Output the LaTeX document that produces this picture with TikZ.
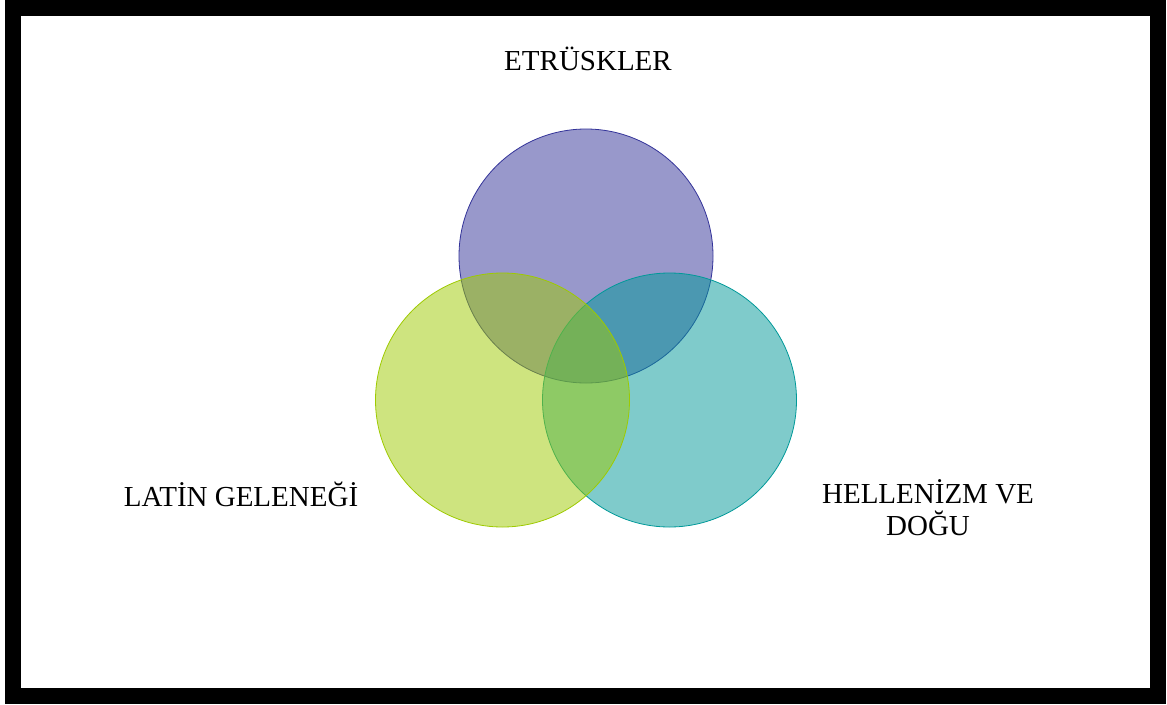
\documentclass[tikz,border=0pt]{standalone}
\usepackage{fontspec}
\setmainfont{Liberation Serif}
\usepackage{tikz}

\definecolor{etrcol}{RGB}{51,51,153}
\definecolor{helcol}{RGB}{0,153,153}
\definecolor{latcol}{RGB}{158,202,0}

\tikzset{
  setcircle/.style={circle, minimum size=254pt, inner sep=0pt, line width=0.8pt,
    draw=#1, fill=#1, fill opacity=0.5, draw opacity=1},
  setlabel/.style={inner sep=0pt, font=\fontsize{29}{32}\selectfont, text=black}
}

\begin{document}
\begin{tikzpicture}[x=1pt, y=-1pt]
  % Frame
  \useasboundingbox (0,0) rectangle (1167,704);
  \fill[white] (0,0) rectangle (1167,704);
  \draw[line width=16pt] (13,8) rectangle (1158,696);

  % Circles
  \node[setcircle=etrcol] (etr) at (586,256) {};
  \node[setcircle=helcol] (hel) at (669.5,400) {};
  \node[setcircle=latcol] (lat) at (502.5,400) {};

  % Labels
  \node[setlabel, anchor=base] (etrlabel) at (588,70) {ETRÜSKLER};
  \node[setlabel, anchor=base] (latlabel) at (241,506) {LATİN GELENEĞİ};
  \node[setlabel, align=center] (hellabel) at (928,508) {HELLENİZM VE\\DOĞU};
\end{tikzpicture}
\end{document}
